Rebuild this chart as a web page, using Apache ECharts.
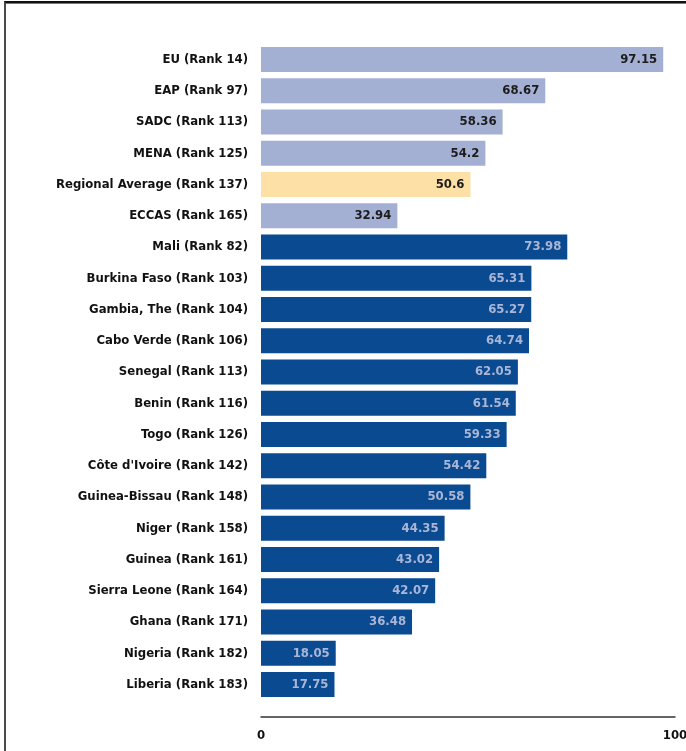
<!DOCTYPE html>
<html>
<head>
<meta charset="utf-8">
<script src="https://cdn.jsdelivr.net/npm/echarts@6/dist/echarts.min.js"></script>
<style>
  html, body { margin: 0; padding: 0; background: #fff; }
  #frame {
    position: absolute; left: 4px; top: 1px; width: 682px; height: 750px;
    border-left: 2px solid #4a4a4a; border-top: 2px solid #111;
  }
  #frame:after {
    content: ''; position: absolute; left: 0; right: 0; top: 0; height: 1px; background: #5a7fb8;
  }
  #echart_show { position: absolute; left: 0; top: 0; width: 686px; height: 751px; }
</style>
</head>
<body>
<div id="frame"></div>
<div id="echart_show"></div>
<script>
// categories, top to bottom
var categories = [
    'EU (Rank 14)', 'EAP (Rank 97)', 'SADC (Rank 113)', 'MENA (Rank 125)',
    'Regional Average (Rank 137)', 'ECCAS (Rank 165)', 'Mali (Rank 82)',
    'Burkina Faso (Rank 103)', 'Gambia, The (Rank 104)', 'Cabo Verde (Rank 106)',
    'Senegal (Rank 113)', 'Benin (Rank 116)', 'Togo (Rank 126)',
    "Côte d'Ivoire (Rank 142)", 'Guinea-Bissau (Rank 148)', 'Niger (Rank 158)',
    'Guinea (Rank 161)', 'Sierra Leone (Rank 164)', 'Ghana (Rank 171)',
    'Nigeria (Rank 182)', 'Liberia (Rank 183)'
];
var scores = [97.15, 68.67, 58.36, 54.2, 50.6, 32.94, 73.98, 65.31, 65.27, 64.74,
    62.05, 61.54, 59.33, 54.42, 50.58, 44.35, 43.02, 42.07, 36.48, 18.05, 17.75];
// group of each bar: 'region', 'average', 'country'
var groups = ['region', 'region', 'region', 'region', 'average', 'region',
    'country', 'country', 'country', 'country', 'country', 'country', 'country',
    'country', 'country', 'country', 'country', 'country', 'country', 'country', 'country'];
var xTicks = [0, 100];

var groupStyle = {
    region:  {fill: '#a4b0d3', text: '#1c1c1c'},
    average: {fill: '#fde0a5', text: '#1c1c1c'},
    country: {fill: '#0a4a90', text: '#aab6d6'}
};

var my_demo_chart = echarts.init(document.getElementById('echart_show'));

var barData = scores.map(function (v, i) {
    var st = groupStyle[groups[i]];
    return {
        value: v,
        itemStyle: {color: st.fill},
        label: {color: st.text}
    };
});

var option = {
    animation: false,
    grid: {left: 261, right: 11, top: 44, bottom: 51, containLabel: false, outerBoundsMode: 'none'},
    xAxis: {
        type: 'value',
        min: xTicks[0],
        max: xTicks[1],
        interval: 100,
        offset: 17,
        splitLine: {show: false},
        axisTick: {show: false},
        axisLine: {show: true, lineStyle: {color: '#333', width: 1.5}},
        axisLabel: {
            color: '#111', fontWeight: 'bold', fontSize: 13,
            fontFamily: 'DejaVu Sans Condensed', margin: 12
        }
    },
    yAxis: {
        type: 'category',
        inverse: true,
        data: categories,
        axisLine: {show: false},
        axisTick: {show: false},
        axisLabel: {
            color: '#111', fontSize: 13, fontWeight: 'bold',
            fontFamily: 'DejaVu Sans Condensed', margin: 13
        }
    },
    series: [{
        type: 'bar',
        data: barData,
        barCategoryGap: '20%',
        label: {
            show: true,
            position: 'insideRight',
            distance: 6,
            fontSize: 13,
            fontWeight: 'bold',
            fontFamily: 'DejaVu Sans Condensed'
        }
    }]
};

my_demo_chart.setOption(option);
</script>
</body>
</html>
